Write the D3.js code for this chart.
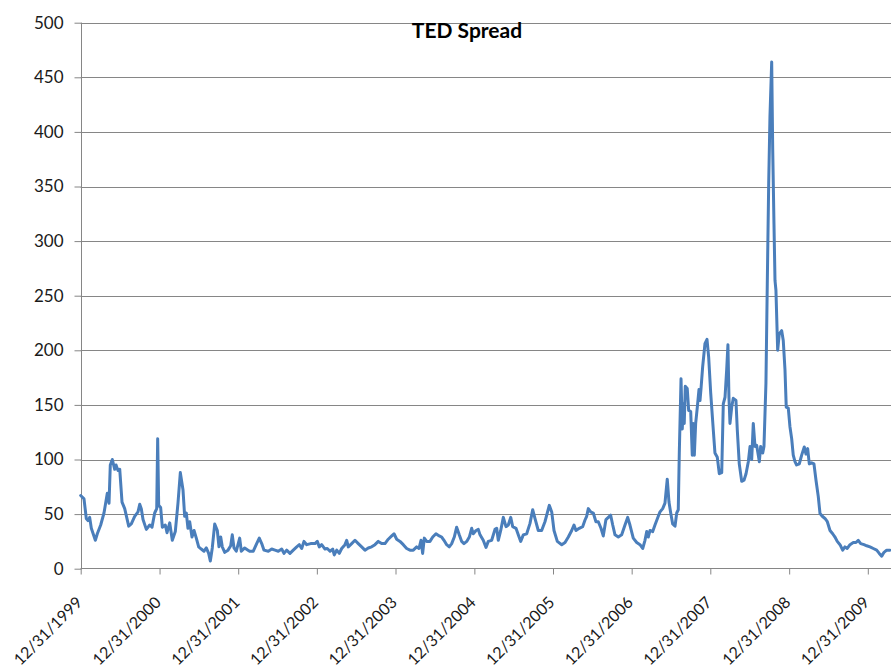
<!DOCTYPE html>
<html>
<head>
<meta charset="utf-8">
<script src="https://cdn.jsdelivr.net/npm/d3@7/dist/d3.min.js"></script>
<style>
  html, body { margin: 0; padding: 0; background: #fff; }
  svg { display: block; }
</style>
</head>
<body>
<svg id="chart" width="891" height="668"></svg>
<script>
// TED spread (basis points), sampled as decimal years (2000.0 = 12/31/1999)
const years = [
  2000.000, 2000.042, 2000.071, 2000.093, 2000.114, 2000.135, 2000.186, 2000.211, 2000.254, 2000.296,
  2000.338, 2000.360, 2000.376, 2000.402, 2000.432, 2000.449, 2000.474, 2000.496, 2000.525, 2000.559,
  2000.610, 2000.643, 2000.686, 2000.728, 2000.750, 2000.770, 2000.792, 2000.834, 2000.877, 2000.906,
  2000.940, 2000.966, 2000.978, 2000.991, 2001.016, 2001.037, 2001.075, 2001.097, 2001.131, 2001.164,
  2001.202, 2001.236, 2001.266, 2001.300, 2001.321, 2001.342, 2001.363, 2001.385, 2001.414, 2001.440,
  2001.469, 2001.499, 2001.532, 2001.567, 2001.596, 2001.626, 2001.647, 2001.672, 2001.703, 2001.736,
  2001.757, 2001.779, 2001.799, 2001.830, 2001.872, 2001.906, 2001.926, 2001.948, 2001.977, 2002.020,
  2002.041, 2002.084, 2002.126, 2002.147, 2002.193, 2002.236, 2002.269, 2002.300, 2002.329, 2002.384,
  2002.427, 2002.469, 2002.511, 2002.554, 2002.583, 2002.617, 2002.659, 2002.701, 2002.745, 2002.778,
  2002.808, 2002.837, 2002.872, 2002.922, 2002.977, 2003.006, 2003.032, 2003.062, 2003.104, 2003.133,
  2003.168, 2003.202, 2003.222, 2003.253, 2003.286, 2003.316, 2003.358, 2003.380, 2003.400, 2003.443,
  2003.485, 2003.527, 2003.570, 2003.612, 2003.654, 2003.697, 2003.739, 2003.781, 2003.824, 2003.866,
  2003.908, 2003.952, 2003.981, 2004.015, 2004.057, 2004.099, 2004.142, 2004.184, 2004.226, 2004.269,
  2004.298, 2004.324, 2004.345, 2004.366, 2004.396, 2004.438, 2004.473, 2004.514, 2004.556, 2004.587,
  2004.616, 2004.650, 2004.683, 2004.714, 2004.747, 2004.777, 2004.810, 2004.841, 2004.870, 2004.905,
  2004.938, 2004.968, 2004.988, 2005.023, 2005.052, 2005.074, 2005.115, 2005.150, 2005.179, 2005.222,
  2005.264, 2005.286, 2005.306, 2005.337, 2005.370, 2005.404, 2005.433, 2005.464, 2005.489, 2005.531,
  2005.560, 2005.591, 2005.624, 2005.667, 2005.709, 2005.743, 2005.772, 2005.814, 2005.857, 2005.899,
  2005.954, 2005.985, 2006.014, 2006.056, 2006.112, 2006.154, 2006.196, 2006.239, 2006.268, 2006.293,
  2006.335, 2006.378, 2006.408, 2006.429, 2006.450, 2006.480, 2006.513, 2006.547, 2006.577, 2006.611,
  2006.640, 2006.674, 2006.704, 2006.734, 2006.760, 2006.789, 2006.831, 2006.874, 2006.916, 2006.950,
  2006.979, 2007.021, 2007.065, 2007.107, 2007.141, 2007.170, 2007.192, 2007.212, 2007.234, 2007.268,
  2007.297, 2007.339, 2007.361, 2007.395, 2007.424, 2007.453, 2007.475, 2007.497, 2007.522, 2007.552,
  2007.573, 2007.593, 2007.606, 2007.628, 2007.644, 2007.657, 2007.669, 2007.682, 2007.707, 2007.725,
  2007.751, 2007.771, 2007.784, 2007.797, 2007.814, 2007.835, 2007.856, 2007.869, 2007.882, 2007.903,
  2007.932, 2007.958, 2007.979, 2008.005, 2008.038, 2008.059, 2008.089, 2008.114, 2008.145, 2008.165,
  2008.187, 2008.208, 2008.224, 2008.237, 2008.250, 2008.272, 2008.292, 2008.326, 2008.343, 2008.368,
  2008.399, 2008.428, 2008.454, 2008.483, 2008.505, 2008.526, 2008.546, 2008.568, 2008.589, 2008.610,
  2008.623, 2008.640, 2008.666, 2008.682, 2008.707, 2008.724, 2008.742, 2008.758, 2008.780, 2008.793,
  2008.809, 2008.822, 2008.834, 2008.856, 2008.876, 2008.907, 2008.927, 2008.949, 2008.965, 2008.991,
  2009.012, 2009.034, 2009.054, 2009.076, 2009.097, 2009.131, 2009.161, 2009.194, 2009.216, 2009.237,
  2009.258, 2009.288, 2009.317, 2009.343, 2009.372, 2009.394, 2009.423, 2009.457, 2009.487, 2009.521,
  2009.555, 2009.584, 2009.613, 2009.648, 2009.682, 2009.711, 2009.740, 2009.775, 2009.817, 2009.851,
  2009.880, 2009.911, 2009.953, 2009.987, 2010.029, 2010.071, 2010.114, 2010.147, 2010.178, 2010.207,
  2010.241, 2010.283
];
const spread = [
  67, 64, 46, 44, 47, 37, 26, 32, 40, 51,
  69, 60, 95, 100, 91, 95, 90, 91, 61, 55,
  39, 41, 48, 52, 59, 55, 45, 36, 40, 38,
  51, 55, 119, 58, 56, 38, 40, 33, 42, 26,
  34, 60, 88, 72, 48, 51, 37, 43, 29, 35,
  28, 20, 18, 16, 19, 14, 7, 19, 41, 35,
  20, 29, 20, 15, 17, 21, 31, 19, 16, 28,
  16, 19, 17, 16, 16, 23, 28, 23, 17, 16,
  18, 17, 16, 18, 14, 17, 14, 17, 20, 22,
  18.5, 25, 22, 23, 23, 25, 20, 22, 18, 18.5,
  16, 18, 12.6, 17, 14, 18.5, 22, 26, 20, 23,
  26, 23, 20, 17, 19, 20, 22, 25, 23, 23,
  27, 30, 32, 27, 25, 22, 18.5, 17, 17, 20,
  18.5, 26, 14, 28, 25, 25, 29, 32, 30, 29,
  26, 22, 20, 23, 29, 38, 31, 25, 23, 25,
  29, 37, 32, 35, 36, 31, 26, 19.5, 25, 26,
  36, 37, 26, 35, 47, 38.5, 40, 47, 38.5, 37,
  31, 25, 31, 32, 41.5, 54, 46, 35, 35, 43,
  58, 52, 35, 25, 22, 24, 29, 35, 40, 35,
  37, 38.5, 44.6, 48, 55, 52, 51, 43, 43, 37,
  30, 45, 47, 49, 40, 31, 29, 31, 40, 47,
  40, 28, 24, 22, 18.5, 26, 34, 29, 35, 34,
  40, 48, 52, 55, 60, 82, 61, 51, 41, 39,
  51, 54, 106, 174, 128, 151, 133, 167, 165, 145,
  144, 104, 133, 104, 133, 148, 164, 154, 165, 185,
  206, 210, 194, 161, 127, 106, 102, 87, 88, 151,
  157, 182, 205, 157, 133, 148, 156, 154, 127, 96,
  80, 81, 87, 98, 112, 100, 133, 112, 113, 104,
  98, 112, 106, 112, 170, 261, 353, 414, 464, 384,
  316, 264, 255, 200, 215, 218, 209, 182, 148, 147,
  130, 119, 104, 98, 95, 96, 104, 111.5, 105, 110,
  96, 97, 96, 81, 66, 50.5, 48, 46, 43, 35,
  32, 29, 25, 22, 17, 20, 18.5, 22, 24, 24,
  26, 23, 22, 21, 20, 18.5, 17, 14, 11.5, 15,
  17, 17
];
const yTicks = [0, 50, 100, 150, 200, 250, 300, 350, 400, 450, 500];
const xTickLabels = ["12/31/1999", "12/31/2000", "12/31/2001", "12/31/2002", "12/31/2003",
  "12/31/2004", "12/31/2005", "12/31/2006", "12/31/2007", "12/31/2008", "12/31/2009"];
const chartTitle = "TED Spread";
const domainEndYear = 2010.296;

const DAY = 864e5;
const base = Date.UTC(1999, 11, 31);
const toDate = t => new Date(base + (t - 2000) * 365.25 * DAY);
const parseTick = d3.utcParse("%m/%d/%Y");

const data = years.map((t, i) => ({ date: toDate(t), value: spread[i] }));

const svg = d3.select("#chart");
const plotLeft = 80.7, plotRight = 891, plotTop = 22.7, plotBottom = 568.7;

const x = d3.scaleUtc().domain([toDate(2000), toDate(domainEndYear)]).range([plotLeft, plotRight]);
const y = d3.scaleLinear().domain([0, 500]).range([plotBottom, plotTop]);

const gridColor = "#868686";
const font = "Lato, 'Open Sans', sans-serif";

// horizontal gridlines
svg.append("g")
  .selectAll("line")
  .data(yTicks.filter(v => v > 0))
  .join("line")
  .attr("x1", plotLeft).attr("x2", plotRight)
  .attr("y1", d => Math.round(y(d)) + 0.5).attr("y2", d => Math.round(y(d)) + 0.5)
  .attr("stroke", gridColor).attr("stroke-width", 1);

// y axis
const yAxis = svg.append("g")
  .attr("transform", `translate(${Math.round(plotLeft) + 0.5},0)`)
  .call(d3.axisLeft(y).tickValues(yTicks).tickSize(7).tickPadding(11).tickFormat(d3.format("d")));
yAxis.select(".domain").attr("stroke", gridColor).attr("d", `M0,${plotTop}V${plotBottom}`);
yAxis.selectAll(".tick line").attr("stroke", gridColor);
yAxis.selectAll(".tick text")
  .attr("fill", "#1a1a1a").style("font-family", font).style("font-size", "17px");

// x axis with date labels slanted at 45 degrees
const xAxis = svg.append("g")
  .attr("transform", `translate(0,${Math.round(plotBottom) - 0.5})`)
  .call(d3.axisBottom(x).tickValues(xTickLabels.map(parseTick)).tickSize(6).tickFormat(d3.utcFormat("%m/%d/%Y")));
xAxis.select(".domain").attr("stroke", gridColor).attr("d", `M${plotLeft},0H${plotRight}`);
xAxis.selectAll(".tick line").attr("stroke", gridColor);
xAxis.selectAll(".tick text")
  .attr("fill", "#1a1a1a")
  .style("font-family", font).style("font-size", "16px")
  .attr("text-anchor", "end")
  .attr("dy", null).attr("y", null)
  .attr("transform", "translate(2,35) rotate(-45)");

// series line
const line = d3.line().x(d => x(d.date)).y(d => y(d.value));
svg.append("path")
  .datum(data)
  .attr("d", line)
  .attr("fill", "none")
  .attr("stroke", "#4a7ebb")
  .attr("stroke-width", 3)
  .attr("stroke-linejoin", "round")
  .attr("stroke-linecap", "round");

// title
svg.append("text")
  .attr("x", 467).attr("y", 38)
  .attr("text-anchor", "middle")
  .style("font-family", font).style("font-weight", "bold").style("font-size", "21px")
  .attr("fill", "#000")
  .text(chartTitle);
</script>
</body>
</html>
